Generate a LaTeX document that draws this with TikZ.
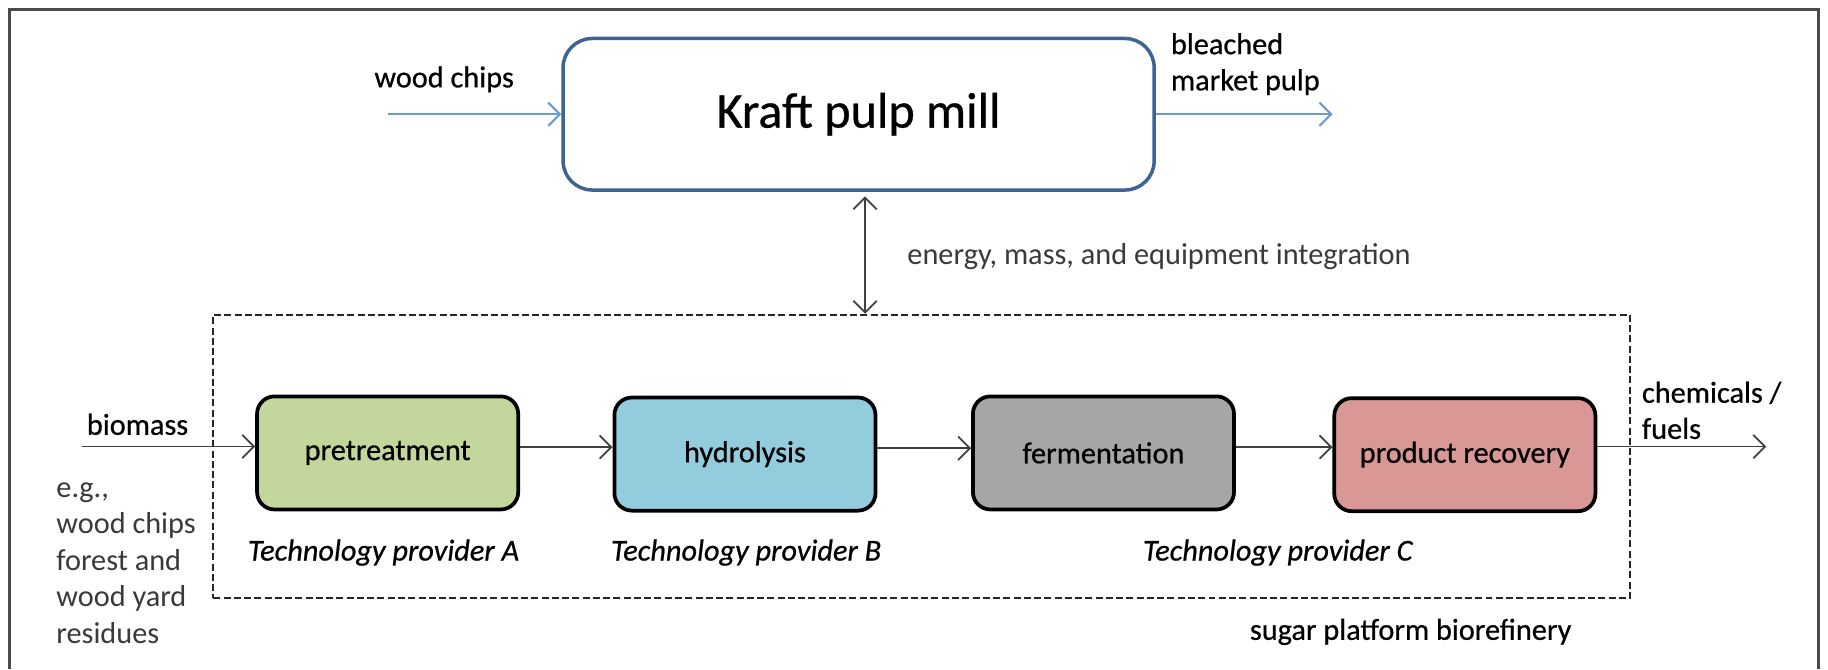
\documentclass[tikz,border=0pt]{standalone}
\usepackage{fontspec}
\setmainfont{Carlito}
\usetikzlibrary{arrows.meta}
\definecolor{framec}{HTML}{4A4A4A}
\definecolor{kraftc}{HTML}{3D6494}
\definecolor{flowblue}{HTML}{6C9BD2}
\definecolor{pregreen}{HTML}{C3D69B}
\definecolor{hydblue}{HTML}{93CDDD}
\definecolor{ferggray}{HTML}{A6A6A6}
\definecolor{recred}{HTML}{D99795}
\definecolor{txtgray}{HTML}{3A3A3A}
\newcommand{\heavier}{\addfontfeature{FakeBold=0.6}}
\tikzset{
  procbox/.style={draw=black, line width=1.6pt, rounded corners=7.5pt,
    minimum width=112pt, minimum height=48.5pt, inner sep=0pt, font=\fontsize{13}{15}\selectfont\heavier},
  kraftbox/.style={draw=kraftc, line width=1.5pt, rounded corners=12.5pt, fill=white,
    minimum width=253.5pt, minimum height=65pt, inner sep=0pt, font=\fontsize{21.5}{24}\selectfont\heavier},
  lbl/.style={inner sep=0pt, font=\fontsize{13}{15.5}\selectfont},
  darklbl/.style={inner sep=0pt, font=\fontsize{13}{15.5}\selectfont\heavier},
  techlbl/.style={inner sep=0pt, font=\fontsize{13}{15}\selectfont\itshape\heavier},
  flow/.style={draw=black!75, line width=0.75pt, -{Straight Barb[length=5pt,width=10pt,line width=0.75pt]}},
  blueflow/.style={draw=flowblue, line width=1pt, -{Straight Barb[length=5pt,width=10pt,line width=0.9pt]}},
  boundary/.style={draw=black!85, line width=0.9pt, dash pattern=on 3pt off 1.4pt, minimum width=607.5pt, minimum height=121.5pt, inner sep=0pt}
}
\begin{document}
\begin{tikzpicture}[x=0.5pt,y=-0.5pt]
\useasboundingbox (0,0) rectangle (1568,574);
\fill[white] (0,0) rectangle (1568,574);
\draw[framec, line width=1.3pt] (8,574) -- (8,8) -- (1560,8) -- (1560,574);

% top mill
\node[kraftbox] (kraft) at (736.5,98) {\raisebox{-2.5pt}{Kraft pulp mill}};
\coordinate (wcin) at (333,98);
\coordinate (bmout) at (1143,98);
\draw[blueflow] (wcin) -- (kraft.west);
\draw[blueflow] (kraft.east) -- (bmout);
\node[darklbl] (wclbl) at (381,68) {wood chips};
\node[darklbl, anchor=west, align=left] (bmlbl) at (1004,55) {bleached\\market pulp};

% biorefinery boundary
\node[boundary] (bio) at (790.5,391.5) {};
\draw[draw=black!75, line width=0.75pt, {Straight Barb[length=5pt,width=10pt,line width=0.75pt]}-{Straight Barb[length=5pt,width=10pt,line width=0.75pt]}]
  ([xshift=2.75pt,yshift=-2pt]kraft.south) -- ([xshift=2.75pt]kraft.south |- bio.north);
\node[lbl, anchor=west, text=txtgray] (integ) at (778,220) {energy, mass, and equipment integration};

% process boxes
\node[procbox, fill=pregreen] (pre) at (332.5,388.5) {pretreatment};
\node[procbox, fill=hydblue] (hyd) at (639,389.5) {hydrolysis};
\node[procbox, fill=ferggray] (fer) at (946.5,388.5) {fermentation};
\node[procbox, fill=recred] (rec) at (1256.5,390) {product recovery};

\coordinate (bmin) at (70,383);
\coordinate (chout) at (1515,383);
\draw[flow] (bmin) -- (bmin -| pre.west);
\draw[flow] ([yshift=2.5pt]pre.east) -- ([yshift=2.5pt]pre.east -| hyd.west);
\draw[flow] ([yshift=2.5pt]hyd.east) -- ([yshift=2.5pt]hyd.east -| fer.west);
\draw[flow] ([yshift=2.5pt]fer.east) -- ([yshift=2.5pt]fer.east -| rec.west);
\draw[flow] (chout -| rec.east) -- (chout);

\node[darklbl] (bmlabel) at (118,364) {biomass};
\node[lbl, anchor=west, align=left, text=txtgray, font=\fontsize{13}{15.6}\selectfont] (eg) at (48,483) {e.g.,\\wood chips\\forest and\\wood yard\\residues};
\node[darklbl, anchor=west, align=left] (chlbl) at (1408,352) {chemicals /\\fuels};

\node[techlbl] (ta) at (329,474) {Technology provider A};
\node[techlbl] (tb) at (640,474) {Technology provider B};
\node[techlbl] (tc) at (1096,474) {Technology provider C};

\node[darklbl] (sugar) at (1210,542) {sugar platform biorefinery};
\end{tikzpicture}
\end{document}
